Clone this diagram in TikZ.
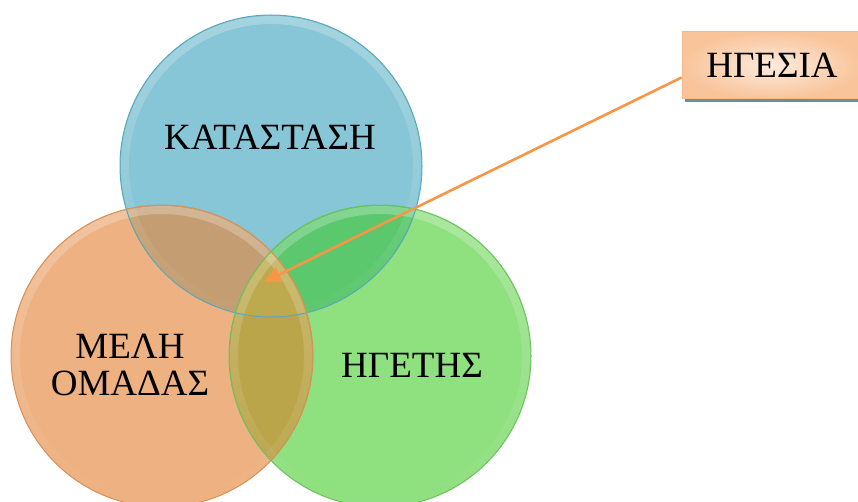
\documentclass[tikz,border=0pt]{standalone}
\usepackage{fontspec}
\setmainfont{Liberation Serif}
\usetikzlibrary{arrows.meta,fadings}

% fills of the three sets and of their overlaps
\definecolor{bluefill}{HTML}{86C6D6}
\definecolor{orangefill}{HTML}{EEB181}
\definecolor{greenfill}{HTML}{8FE07F}
\definecolor{blueorange}{HTML}{C49E72}
\definecolor{bluegreen}{HTML}{5CC86E}
\definecolor{orangegreen}{HTML}{BBA54B}
\definecolor{allthree}{HTML}{BDAA4E}
\definecolor{blueline}{HTML}{5AA8BD}
\definecolor{orangeline}{HTML}{D7915A}
\definecolor{greenline}{HTML}{6CC25E}
\definecolor{arrowcol}{HTML}{F79646}
\definecolor{boxedge}{HTML}{F8B98B}
\definecolor{boxlight}{HTML}{FDEBDD}
\definecolor{boxdark}{HTML}{F9C49A}
\definecolor{boxshadow}{HTML}{6F8E90}

% glow that is strongest at the top and vanishes lower down
\tikzfading[name=topglow, top color=transparent!0, middle color=transparent!100,
            bottom color=transparent!100]

\tikzset{
  setlabel/.style={font=\fontsize{37}{38}\selectfont, align=center, text=black, inner sep=0pt},
  rim/.style={line width=1pt},
}

\begin{document}
\begin{tikzpicture}[x=1pt,y=-1pt]
\useasboundingbox (0,0) rectangle (858,502);

\coordinate (B) at (271,166);
\coordinate (O) at (162,356);
\coordinate (G) at (380,356);
\def\rad{151}

% the three sets
\fill[bluefill]   (B) circle (\rad);
\fill[orangefill] (O) circle (\rad);
\fill[greenfill]  (G) circle (\rad);

% pairwise overlaps
\begin{scope}
  \clip (B) circle (\rad);
  \fill[blueorange] (O) circle (\rad);
  \fill[bluegreen]  (G) circle (\rad);
\end{scope}
\begin{scope}
  \clip (O) circle (\rad);
  \fill[orangegreen] (G) circle (\rad);
\end{scope}
% centre, common to all three
\begin{scope}
  \clip (B) circle (\rad);
  \clip (O) circle (\rad);
  \fill[allthree] (G) circle (\rad);
\end{scope}

% soft bevel along the upper edge of each disc
\foreach \c in {B,O,G}{
  \begin{scope}
    \clip (\c) circle (\rad);
    \draw[white, opacity=0.25, line width=8pt, path fading=topglow] (\c) circle (\rad-5);
  \end{scope}
}

% rims
\draw[rim, blueline]   (B) circle (\rad);
\draw[rim, orangeline] (O) circle (\rad);
\draw[rim, greenline]  (G) circle (\rad);

% labels of the sets
\node[setlabel] (kat) at (270,137) {ΚΑΤΑΣΤΑΣΗ};
\node[setlabel, font=\fontsize{37}{37}\selectfont] (mel) at (130,365) {ΜΕΛΗ\\ΟΜΑΔΑΣ};
\node[setlabel] (hge) at (412,365) {ΗΓΕΤΗΣ};

% callout box
\fill[boxshadow] (685,99) rectangle (862,102.5);
\node[draw=boxedge, line width=1pt, inner color=boxlight, outer color=boxdark,
      minimum width=180pt, minimum height=67pt, font=\fontsize{37}{38}\selectfont,
      inner sep=0pt] (lead) at (772,65.5) {ΗΓΕΣΙΑ};

% pointer into the common region
\coordinate (core) at (264,282);
\draw[arrowcol, line width=2.6pt, -{Triangle[length=17pt,width=16pt]}]
  ([yshift=-12pt]lead.west) -- (core);

\end{tikzpicture}
\end{document}
